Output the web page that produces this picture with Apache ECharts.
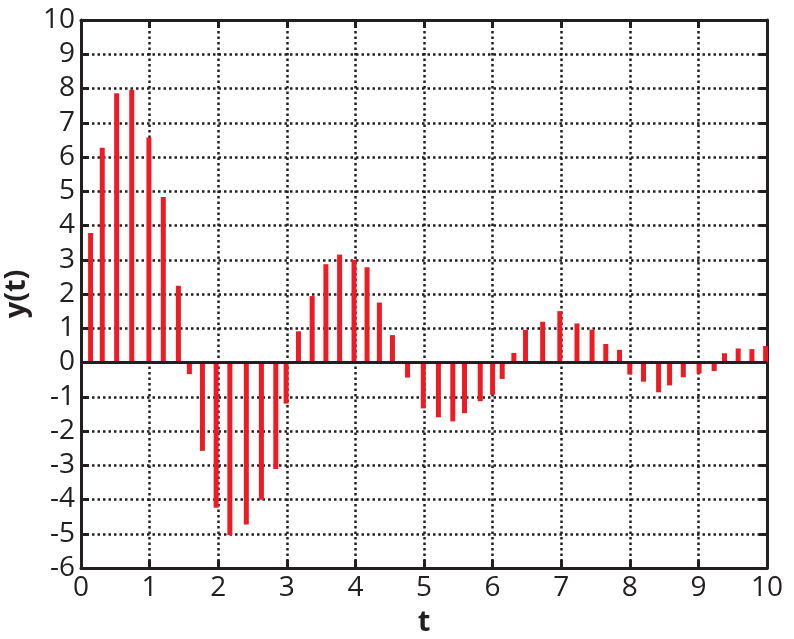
<!DOCTYPE html>
<html>
<head>
<meta charset="utf-8">
<script src="https://cdn.jsdelivr.net/npm/echarts@6/dist/echarts.min.js"></script>
<style>
  html, body { margin: 0; padding: 0; background: #fff; }
  #chart { width: 794px; height: 639px; }
</style>
</head>
<body>
<div id="chart"></div>
<script>
// sample times and values
const tValues = [0.14, 0.31, 0.52, 0.74, 0.99, 1.20, 1.42, 1.58, 1.77, 1.97, 2.17, 2.41, 2.63, 2.84, 2.99,
  3.17, 3.37, 3.57, 3.77, 3.98, 4.17, 4.35, 4.54, 4.76, 4.99, 5.21, 5.42, 5.59, 5.82, 6.00,
  6.14, 6.31, 6.48, 6.73, 6.98, 7.23, 7.45, 7.65, 7.85, 8.00, 8.20, 8.42, 8.58, 8.78, 9.01,
  9.23, 9.38, 9.58, 9.78, 9.98];
const yValues = [3.78, 6.27, 7.86, 7.96, 6.57, 4.83, 2.24, -0.34, -2.58, -4.24, -5.04, -4.73, -4.01, -3.11, -1.2,
  0.91, 1.94, 2.87, 3.15, 3.0, 2.78, 1.75, 0.8, -0.44, -1.34, -1.6, -1.72, -1.48, -1.13, -0.94,
  -0.48, 0.28, 0.95, 1.19, 1.5, 1.14, 0.96, 0.54, 0.37, -0.35, -0.56, -0.87, -0.67, -0.43, -0.32,
  -0.25, 0.27, 0.41, 0.39, 0.48];
const xTicks = [0, 10, 1];   // min, max, step
const yTicks = [-6, 10, 1];

const ink = '#231f20';
const font = 'Open Sans';

const chart = echarts.init(document.getElementById('chart'));

const stems = tValues.map((t, i) => [t, yValues[i]]);

const gridLine = { show: true, lineStyle: { color: ink, width: 2.5, type: [2.5, 3] } };

const option = {
  animation: false,
  grid: { left: 81, right: 27, top: 20, bottom: 71, outerBoundsMode: 'none', containLabel: false },
  xAxis: [
    {
      type: 'value', min: xTicks[0], max: xTicks[1], interval: xTicks[2],
      name: 't', nameLocation: 'middle', nameGap: 40,
      nameTextStyle: { fontFamily: font, fontWeight: 'bold', fontSize: 29, color: ink },
      axisLine: { onZero: false, lineStyle: { color: ink, width: 3 } },
      axisTick: { inside: true, length: 8, lineStyle: { color: ink, width: 3 } },
      axisLabel: { fontFamily: font, fontSize: 28, color: ink, margin: 6 },
      splitLine: gridLine
    },
    {
      type: 'value', position: 'top', min: xTicks[0], max: xTicks[1], interval: xTicks[2],
      axisLine: { onZero: false, lineStyle: { color: ink, width: 3 } },
      axisTick: { inside: true, length: 8, lineStyle: { color: ink, width: 3 } },
      axisLabel: { show: false },
      splitLine: { show: false }
    }
  ],
  yAxis: [
    {
      type: 'value', min: yTicks[0], max: yTicks[1], interval: yTicks[2],
      name: 'y(t)', nameLocation: 'middle', nameGap: 50, nameRotate: 90,
      nameTextStyle: { fontFamily: font, fontWeight: 'bold', fontSize: 29, color: ink },
      axisLine: { onZero: false, lineStyle: { color: ink, width: 3 } },
      axisTick: { inside: true, length: 8, lineStyle: { color: ink, width: 3 } },
      axisLabel: { fontFamily: font, fontSize: 28, color: ink, margin: 6 },
      splitLine: gridLine
    },
    {
      type: 'value', position: 'right', min: yTicks[0], max: yTicks[1], interval: yTicks[2],
      axisLine: { onZero: false, lineStyle: { color: ink, width: 3 } },
      axisTick: { inside: true, length: 8, lineStyle: { color: ink, width: 3 } },
      axisLabel: { show: false },
      splitLine: { show: false }
    }
  ],
  series: [{
    type: 'bar',
    data: stems,
    barWidth: 5,
    itemStyle: { color: '#ed1c24' },
    markLine: {
      silent: true,
      symbol: 'none',
      label: { show: false },
      lineStyle: { color: ink, width: 3, type: 'solid' },
      data: [{ yAxis: 0 }]
    }
  }]
};

chart.setOption(option);
</script>
</body>
</html>
